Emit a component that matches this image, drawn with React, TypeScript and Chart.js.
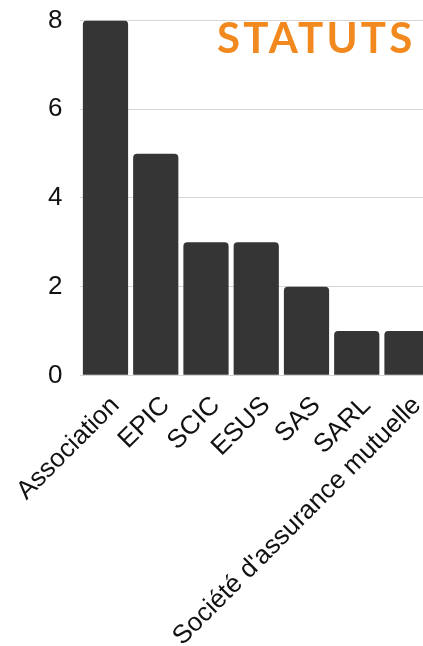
import React, { useEffect, useRef } from "react";
import { Chart, registerables } from "chart.js";

Chart.register(...registerables);

const categories = [
  "Association",
  "EPIC",
  "SCIC",
  "ESUS",
  "SAS",
  "SARL",
  "Société d'assurance mutuelle",
];
const counts = [8, 5, 3, 3, 2, 1, 1];
const yTicks = [0, 2, 4, 6, 8];
const titleText = "STATUTS";

export default function App() {
  const ref = useRef<HTMLCanvasElement | null>(null);

  useEffect(() => {
    if (!ref.current) return;
    const chart = new Chart(ref.current, {
      type: "bar",
      data: {
        labels: categories,
        datasets: [
          {
            data: counts,
            backgroundColor: "#353535",
            borderRadius: 4,
            borderSkipped: "bottom",
            barPercentage: 0.9,
            categoryPercentage: 1,
          },
        ],
      },
      options: {
        animation: false,
        responsive: true,
        maintainAspectRatio: false,
        layout: { padding: 0 },
        plugins: {
          legend: { display: false },
          title: { display: false },
          tooltip: { enabled: false },
        },
        scales: {
          x: {
            grid: { display: false },
            border: { display: false },
            ticks: {
              color: "#111",
              font: { family: "'Liberation Sans', Arial, sans-serif", size: 26 },
              maxRotation: 45,
              minRotation: 45,
              autoSkip: false,
              padding: 7,
              labelOffset: 10,
            },
          },
          y: {
            min: 0,
            max: 8,
            afterBuildTicks: (axis: any) => {
              axis.ticks = yTicks.map((v) => ({ value: v }));
            },
            grid: { color: "rgba(0,0,0,0.16)", drawTicks: false },
            border: { display: false },
            ticks: {
              color: "#111",
              padding: 18,
              font: { family: "'Liberation Sans', Arial, sans-serif", size: 26 },
            },
          },
        },
      },
    });
    return () => chart.destroy();
  }, []);

  return (
    <div
      style={{
        position: "relative",
        width: 423,
        height: 646,
        overflow: "hidden",
        background: "#fff",
      }}
    >
      <style>{`html,body{margin:0;padding:0;overflow:hidden}`}</style>
      <div
        style={{
          position: "absolute",
          left: 0.5,
          top: -13,
          width: 433,
          height: 672,
        }}
      >
        <canvas ref={ref} />
      </div>
      <div
        style={{
          position: "absolute",
          left: 217,
          top: 12.5,
          color: "#F2891E",
          fontFamily: "Lato, 'Open Sans', sans-serif",
          fontWeight: 700,
          fontSize: 42,
          letterSpacing: 3.2,
          lineHeight: "48px",
          whiteSpace: "nowrap",
        }}
      >
        {titleText}
      </div>
    </div>
  );
}
